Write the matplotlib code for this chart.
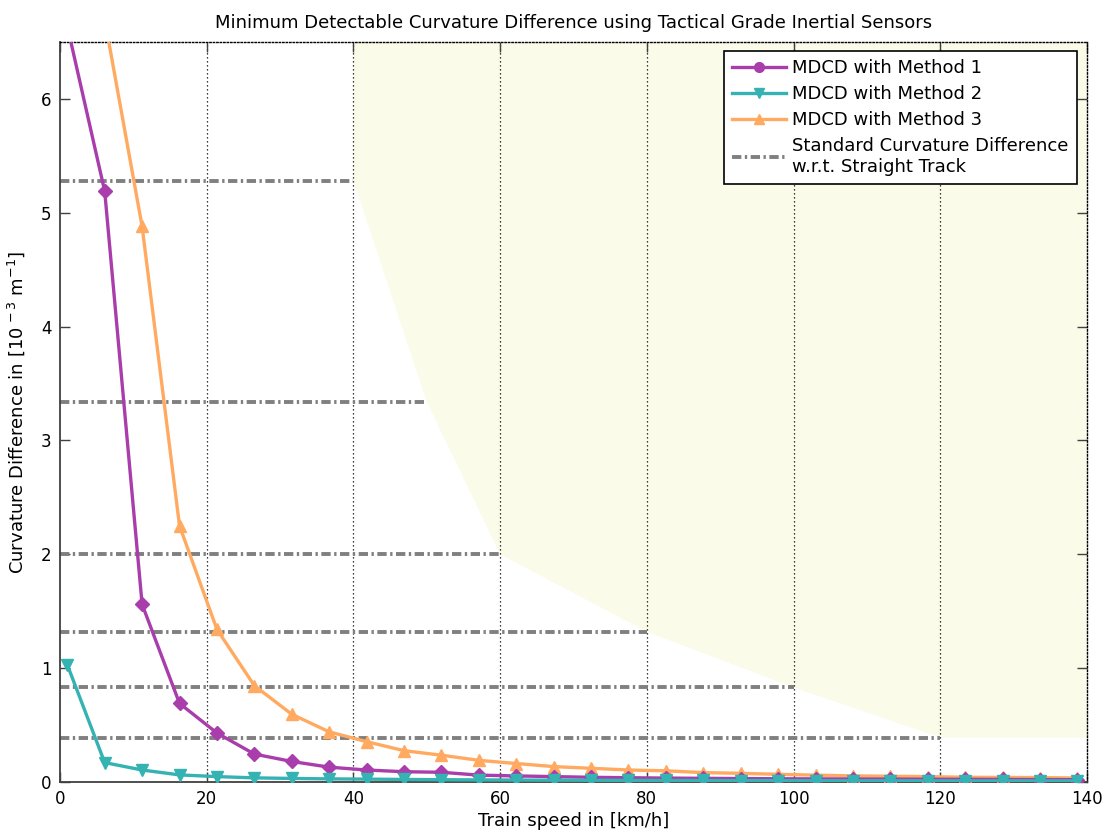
import matplotlib
matplotlib.use("Agg")
import matplotlib.pyplot as plt
from matplotlib.lines import Line2D

plt.rcParams['font.family'] = ['DejaVu Sans']
plt.rcParams['mathtext.fontset'] = 'dejavusans'

# ---- data ----
speed = [1.0, 6.1, 11.2, 16.3, 21.4, 26.5, 31.6, 36.7, 41.8, 46.9, 52.0, 57.1, 62.2, 67.3,
         72.4, 77.5, 82.6, 87.7, 92.8, 97.9, 103.0, 108.1, 113.2, 118.3, 123.4, 128.5, 133.6, 138.7]
mdcd_m1 = [6.64, 5.19, 1.56, 0.69, 0.43, 0.245, 0.18, 0.13, 0.105, 0.09, 0.085, 0.06, 0.053, 0.047,
           0.041, 0.037, 0.034, 0.032, 0.030, 0.028, 0.027, 0.026, 0.025, 0.024, 0.023, 0.022, 0.021, 0.020]
mdcd_m2 = [1.03, 0.17, 0.105, 0.062, 0.047, 0.036, 0.031, 0.027, 0.025, 0.022, 0.020, 0.018, 0.017, 0.016,
           0.015, 0.014, 0.013, 0.013, 0.012, 0.012, 0.011, 0.011, 0.011, 0.010, 0.010, 0.010, 0.010, 0.010]
mdcd_m3 = [9.5, 6.70, 4.88, 2.25, 1.34, 0.846, 0.595, 0.44, 0.354, 0.275, 0.235, 0.19, 0.162, 0.135,
           0.12, 0.105, 0.098, 0.082, 0.076, 0.067, 0.060, 0.053, 0.050, 0.047, 0.041, 0.040, 0.038, 0.035]

std_levels = [5.28, 3.34, 2.00, 1.32, 0.83, 0.39]
std_speeds = [40, 50, 60, 80, 100, 120]

x_ticks = [0, 20, 40, 60, 80, 100, 120, 140]
y_ticks = [0, 1, 2, 3, 4, 5, 6]

c_m1 = '#A93DAB'
c_m2 = '#35B2B2'
c_m3 = '#FFAA60'
c_std = '#808080'
c_shade = '#FBFBEA'

fig = plt.figure(figsize=(11.04, 8.34), dpi=100)
ax = fig.add_axes([0.0543, 0.0624, 0.9303, 0.8872])

xmax, ymax = 140, 6.5

# shaded region (above the standard-curvature boundary)
poly_x = [std_speeds[0]] + std_speeds + [xmax, xmax]
poly_y = [ymax] + std_levels + [std_levels[-1], ymax]
ax.fill(poly_x, poly_y, color=c_shade, lw=0, zorder=0)

# grid (vertical only)
for xt in x_ticks[1:-1]:
    ax.axvline(xt, color='black', lw=0.9, ls=(0, (1, 2.2)), zorder=1)

dash = (0, (2.4, 0.9, 0.6, 0.9))
for lvl, sp in zip(std_levels, std_speeds):
    ax.plot([0, sp], [lvl, lvl], color=c_std, lw=2.8, ls=dash, zorder=2)

lw = 2.4
ax.plot(speed, mdcd_m3, color=c_m3, lw=lw, marker='^', ms=9, zorder=3)
ax.plot(speed, mdcd_m1, color=c_m1, lw=lw, marker='D', ms=7, zorder=4)
ax.plot(speed, mdcd_m2, color=c_m2, lw=lw, marker='v', ms=9, zorder=5)

ax.set_xlim(0, xmax)
ax.set_ylim(0, ymax)
ax.set_xticks(x_ticks)
ax.set_yticks(y_ticks)
ax.tick_params(direction='in', length=7, width=1, colors='#404040', labelcolor='black',
               labelsize=12, top=True, right=True, pad=6)
for s in ['left', 'bottom']:
    ax.spines[s].set_color('#404040')
    ax.spines[s].set_linewidth(1.3)
for s in ['top', 'right']:
    ax.spines[s].set_color('black')
    ax.spines[s].set_linewidth(1.0)
    ax.spines[s].set_linestyle((0, (1, 1.5)))

ax.set_title('Minimum Detectable Curvature Difference using Tactical Grade Inertial Sensors',
             fontsize=13, pad=10)
ax.set_xlabel('Train speed in [km/h]', fontsize=13, labelpad=3)
ax.set_ylabel(r'Curvature Difference in [10$^{\,-3}$ m$^{-1}$]', fontsize=13, labelpad=10)

handles = [
    Line2D([], [], color=c_m1, lw=lw, marker='o', ms=7),
    Line2D([], [], color=c_m2, lw=lw, marker='v', ms=7),
    Line2D([], [], color=c_m3, lw=lw, marker='^', ms=7),
    Line2D([], [], color=c_std, lw=2.8, ls=dash),
]
labels = ['MDCD with Method 1', 'MDCD with Method 2', 'MDCD with Method 3',
          'Standard Curvature Difference\nw.r.t. Straight Track']
leg = ax.legend(handles, labels, loc='upper right', bbox_to_anchor=(0.99, 0.988),
                fontsize=13, frameon=True, fancybox=False, edgecolor='black',
                handlelength=3.0, handletextpad=0.35, labelspacing=0.45,
                borderpad=0.45, borderaxespad=0)
leg.get_frame().set_linewidth(1.2)
leg.get_frame().set_facecolor('white')
leg.get_frame().set_alpha(1)

fig.savefig('out.png', dpi=100)
